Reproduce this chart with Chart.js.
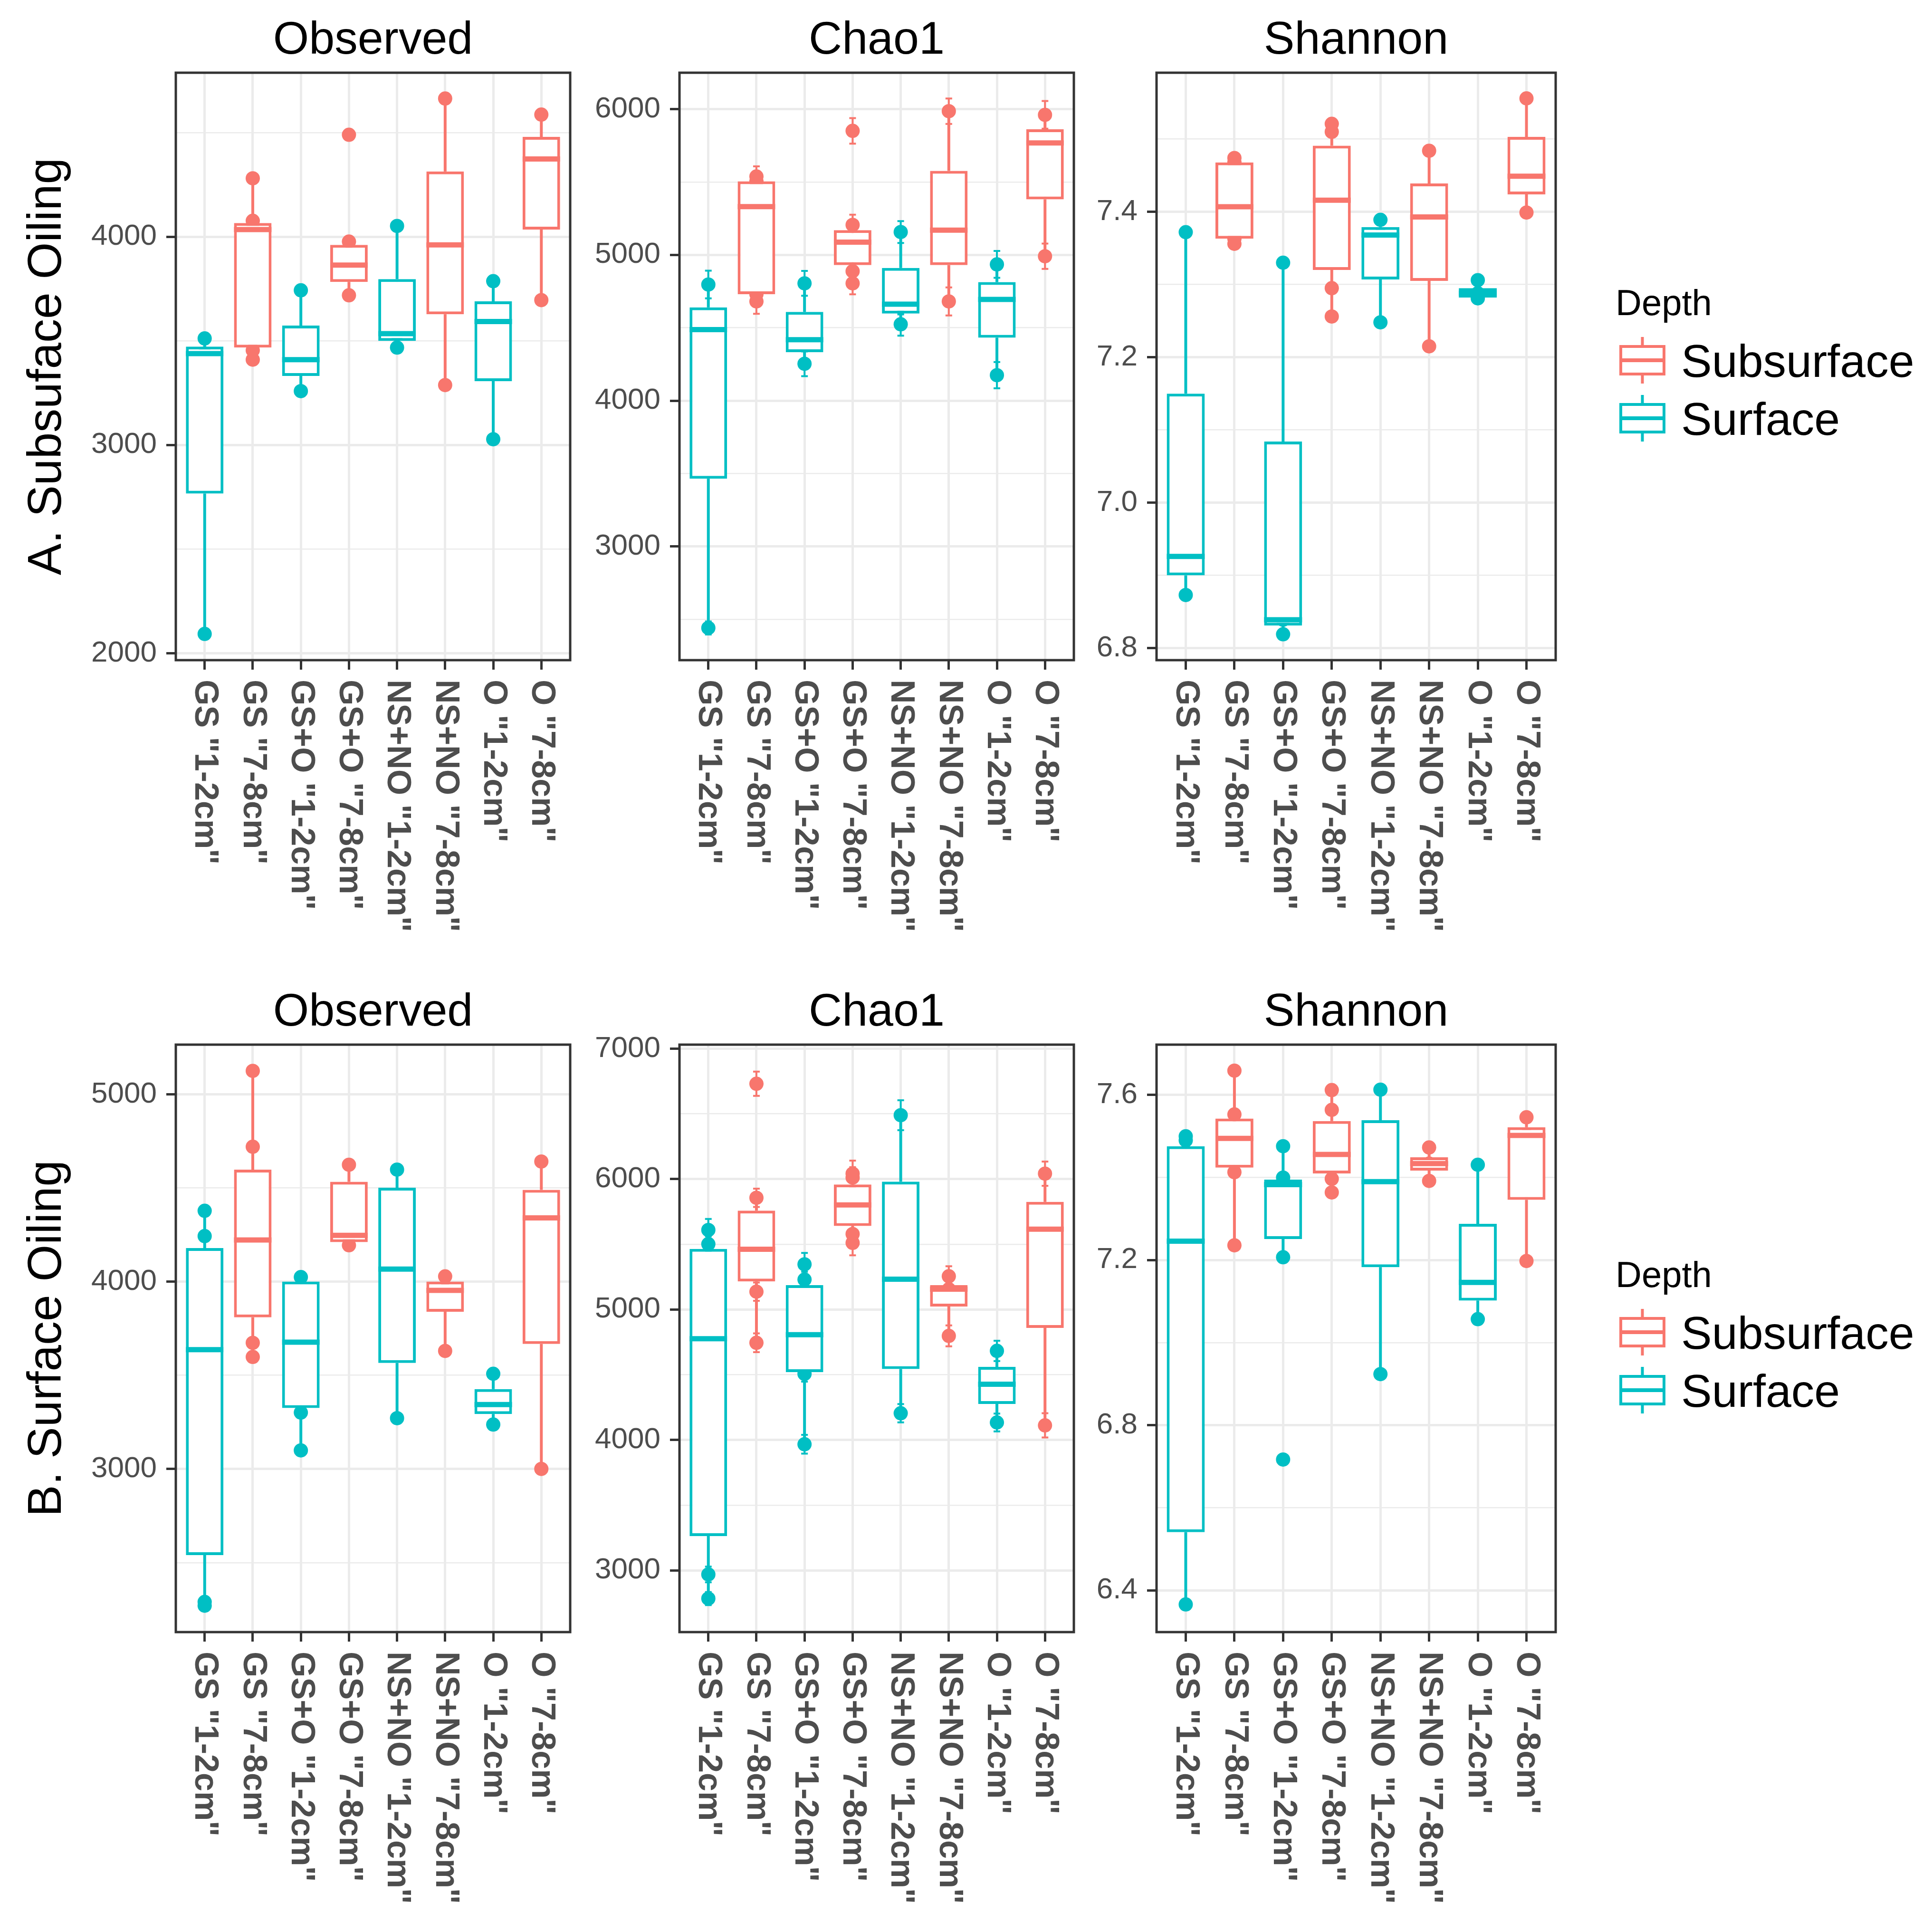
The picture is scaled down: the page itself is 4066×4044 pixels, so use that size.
<!DOCTYPE html>
<html>
<head>
<meta charset="utf-8">
<script src="https://cdn.jsdelivr.net/npm/chart.js@4.4.1/dist/chart.umd.min.js"></script>
<style>
html, body { margin: 0; padding: 0; background: #ffffff; }
body { position: relative; width: 4066px; height: 4044px; overflow: hidden; }
canvas { position: absolute; }
</style>
</head>
<body>
<script>
// categories and colour per depth
var groups = ['GS "1-2cm"', 'GS "7-8cm"', 'GS+O "1-2cm"', 'GS+O "7-8cm"', 'NS+NO "1-2cm"', 'NS+NO "7-8cm"', 'O "1-2cm"', 'O "7-8cm"']
var depth = ['Surface', 'Subsurface', 'Surface', 'Subsurface', 'Surface', 'Subsurface', 'Surface', 'Subsurface']
var depthNames = ['Subsurface', 'Surface']
var depthColor = { Subsurface: '#F8766D', Surface: '#00BFC4' }

// box stats per group: [whisker low, q1, median, q3, whisker high]
var observedA = [[2093, 2767, 3439, 3473, 3512], [3410, 3468, 4035, 4066, 4281], [3259, 3332, 3410, 3574, 3743], [3719, 3783, 3864, 3961, 3977],
  [3468, 3500, 3535, 3797, 4052], [3288, 3628, 3961, 4314, 4664], [3028, 3307, 3593, 3690, 3787], [3696, 4035, 4374, 4480, 4587]]
var observedA_pts = [[2093, 3439, 3512], [3410, 3455, 4035, 4077, 4281], [3259, 3410, 3743], [3719, 3864, 3977, 4490],
  [3468, 3535, 4052], [3288, 3961, 4664], [3028, 3593, 3787], [3696, 4374, 4587]]

var chao1A = [[2441, 3465, 4488, 4640, 4797], [4681, 4731, 5331, 5505, 5538], [4253, 4333, 4418, 4609, 4805], [4805, 4930, 5088, 5170, 5206],
  [4524, 4598, 4662, 4911, 5157], [4681, 4930, 5170, 5577, 5986], [4175, 4432, 4695, 4814, 4935], [4991, 5381, 5768, 5862, 5961]]
var chao1A_pts = [[2441, 4488, 4797], [4681, 4731, 5331, 5505, 5538], [4253, 4418, 4805], [4805, 4888, 5088, 5206, 5851],
  [4524, 4662, 5157], [4681, 5170, 5986], [4175, 4695, 4935], [4991, 5768, 5961]]
var chao1A_se = [[45, 60, 95], [85, 60, 70, 60, 70], [85, 70, 85], [75, 70, 70, 70, 88],
  [78, 70, 75], [96, 80, 87], [90, 75, 92], [87, 80, 95]]

var shannonA = [[6.873, 6.900, 6.926, 7.150, 7.372], [7.356, 7.363, 7.407, 7.468, 7.474], [6.819, 6.831, 6.839, 7.084, 7.330], [7.256, 7.320, 7.416, 7.491, 7.521],
  [7.248, 7.307, 7.368, 7.379, 7.389], [7.215, 7.305, 7.393, 7.439, 7.484], [7.281, 7.282, 7.288, 7.295, 7.306], [7.399, 7.424, 7.449, 7.503, 7.556]]
var shannonA_pts = [[6.873, 6.926, 7.372], [7.356, 7.363, 7.407, 7.468, 7.474], [6.819, 6.839, 7.330], [7.256, 7.295, 7.416, 7.510, 7.521],
  [7.248, 7.368, 7.389], [7.215, 7.393, 7.484], [7.281, 7.288, 7.306], [7.399, 7.449, 7.556]]

var observedB = [[2275, 2540, 3637, 4179, 4378], [3598, 3809, 4222, 4598, 5125], [3099, 3325, 3677, 4000, 4024], [4194, 4211, 4247, 4533, 4624],
  [3271, 3566, 4067, 4501, 4598], [3630, 3839, 3953, 4000, 4028], [3237, 3293, 3344, 3426, 3508], [3000, 3667, 4340, 4490, 4641]]
var observedB_pts = [[2270, 2290, 3637, 4243, 4378], [3598, 3673, 4222, 4720, 5125], [3099, 3301, 3677, 4024], [4194, 4247, 4624],
  [3271, 4067, 4598], [3630, 3953, 4028], [3237, 3344, 3508], [3000, 4340, 4641]]

var chao1B = [[2784, 3263, 4776, 5465, 5610], [4745, 5215, 5462, 5758, 5857], [3967, 4520, 4807, 5187, 5347], [5511, 5641, 5802, 5959, 6042],
  [4205, 4544, 5233, 5981, 6490], [4798, 5023, 5156, 5187, 5255], [4134, 4276, 4427, 4560, 4683], [4112, 4859, 5616, 5826, 6042]]
var chao1B_pts = [[2784, 2969, 4776, 5502, 5610], [4745, 5137, 5462, 5857, 6731], [3967, 4507, 4807, 5230, 5347], [5511, 5579, 5802, 6012, 6042],
  [4205, 5233, 6490], [4798, 5156, 5255], [4134, 4427, 4683], [4112, 5616, 6042]]
var chao1B_se = [[50, 60, 70, 60, 85], [72, 70, 70, 70, 93], [72, 60, 70, 60, 87], [95, 70, 70, 80, 100],
  [70, 80, 115], [80, 70, 77], [68, 70, 78], [93, 80, 93]]

var shannonB = [[6.366, 6.541, 7.246, 7.476, 7.500], [7.236, 7.424, 7.495, 7.543, 7.659], [7.207, 7.251, 7.383, 7.395, 7.476], [7.364, 7.410, 7.456, 7.537, 7.612],
  [6.924, 7.183, 7.390, 7.539, 7.613], [7.392, 7.417, 7.434, 7.449, 7.473], [7.057, 7.102, 7.146, 7.288, 7.431], [7.198, 7.346, 7.502, 7.522, 7.546]]
var shannonB_pts = [[6.366, 7.246, 7.490, 7.500], [7.236, 7.413, 7.495, 7.553, 7.659], [6.717, 7.207, 7.383, 7.400, 7.476], [7.364, 7.397, 7.456, 7.564, 7.612],
  [6.924, 7.390, 7.613], [7.392, 7.434, 7.473], [7.057, 7.146, 7.431], [7.198, 7.502, 7.546]]

// y ticks
var observedA_ticks = [2000, 3000, 4000], observedA_labels = ['2000', '3000', '4000'], observedA_minor = [2500, 3500, 4500]
var chao1A_ticks = [3000, 4000, 5000, 6000], chao1A_labels = ['3000', '4000', '5000', '6000'], chao1A_minor = [2500, 3500, 4500, 5500]
var shannonA_ticks = [6.8, 7.0, 7.2, 7.4], shannonA_labels = ['6.8', '7.0', '7.2', '7.4'], shannonA_minor = [6.9, 7.1, 7.3, 7.5]
var observedB_ticks = [3000, 4000, 5000], observedB_labels = ['3000', '4000', '5000'], observedB_minor = [2500, 3500, 4500]
var chao1B_ticks = [3000, 4000, 5000, 6000, 7000], chao1B_labels = ['3000', '4000', '5000', '6000', '7000'], chao1B_minor = [3500, 4500, 5500, 6500]
var shannonB_ticks = [6.4, 6.8, 7.2, 7.6], shannonB_labels = ['6.4', '6.8', '7.2', '7.6'], shannonB_minor = [6.6, 7.0, 7.4]

var FONT = '"Liberation Sans", Arial, sans-serif'

function makePlugin(p) {
  return {
    id: 'boxplot',
    beforeDatasetsDraw: function (chart) {
      var c = chart.ctx, xs = chart.scales.x, ys = chart.scales.y, a = chart.chartArea
      c.save()
      c.beginPath(); c.rect(a.left, a.top, a.right - a.left, a.bottom - a.top); c.clip()
      c.lineCap = 'butt'
      p.box.forEach(function (b, i) {
        var px = xs.getPixelForValue(i + 1)
        c.strokeStyle = depthColor[depth[i]]
        c.lineWidth = 6
        c.beginPath()
        c.moveTo(px, ys.getPixelForValue(b[0])); c.lineTo(px, ys.getPixelForValue(b[1]))
        c.moveTo(px, ys.getPixelForValue(b[3])); c.lineTo(px, ys.getPixelForValue(b[4]))
        c.stroke()
        if (p.se) {
          c.lineWidth = 4
          p.pts[i].forEach(function (v, k) {
            var s = p.se[i][k], y1 = ys.getPixelForValue(v - s), y2 = ys.getPixelForValue(v + s)
            c.beginPath()
            c.moveTo(px, y1); c.lineTo(px, y2)
            c.moveTo(px - 7, y1); c.lineTo(px + 7, y1)
            c.moveTo(px - 7, y2); c.lineTo(px + 7, y2)
            c.stroke()
          })
        }
      })
      c.restore()
    },
    afterDatasetsDraw: function (chart) {
      var c = chart.ctx, ys = chart.scales.y, a = chart.chartArea
      var bars = chart.getDatasetMeta(0).data
      c.save()
      p.box.forEach(function (b, i) {
        var el = bars[i], py = ys.getPixelForValue(b[2])
        c.strokeStyle = depthColor[depth[i]]
        c.lineWidth = 11
        c.beginPath(); c.moveTo(el.x - el.width / 2, py); c.lineTo(el.x + el.width / 2, py); c.stroke()
      })
      // panel border
      c.strokeStyle = '#333333'
      c.lineWidth = 5
      c.strokeRect(a.left, a.top, a.right - a.left, a.bottom - a.top)
      c.restore()
    },
    afterDraw: function (chart) {
      var c = chart.ctx, xs = chart.scales.x, a = chart.chartArea
      c.save()
      c.font = 'bold 70px ' + FONT
      c.fillStyle = '#4D4D4D'
      c.textAlign = 'left'
      c.textBaseline = 'middle'
      groups.forEach(function (g, i) {
        c.save()
        c.translate(xs.getPixelForValue(i + 1), a.bottom + 41)
        c.rotate(Math.PI / 2)
        c.fillText(g, 0, 0)
        c.restore()
      })
      if (p.legend) {
        var ox = p.left, oy = p.top, dy = p.legendTop
        c.fillStyle = '#000000'
        c.textBaseline = 'alphabetic'
        c.font = '76px ' + FONT
        c.fillText('Depth', 3400 - ox, dy + 663 - oy)
        depthNames.forEach(function (d, k) {
          var cy = dy + 758 + k * 122 - oy, kx = 3408 - ox, col = depthColor[d]
          c.strokeStyle = col
          c.lineWidth = 6
          c.beginPath()
          c.moveTo(kx + 48.5, cy - 49); c.lineTo(kx + 48.5, cy - 32)
          c.moveTo(kx + 48.5, cy + 32); c.lineTo(kx + 48.5, cy + 49)
          c.stroke()
          c.fillStyle = '#ffffff'
          c.fillRect(kx, cy - 32, 97, 64)
          c.strokeRect(kx + 3, cy - 29, 91, 58)
          c.lineWidth = 8
          c.beginPath(); c.moveTo(kx + 3, cy); c.lineTo(kx + 94, cy); c.stroke()
          c.fillStyle = '#000000'
          c.font = '97px ' + FONT
          c.fillText(d, 3538 - ox, cy + 35)
        })
      }
      c.restore()
    }
  }
}

function panel(p) {
  var cv = document.createElement('canvas')
  cv.width = p.w
  cv.height = p.h
  cv.style.left = p.left + 'px'
  cv.style.top = p.top + 'px'
  document.body.appendChild(cv)

  var dots = [], dotColors = []
  p.pts.forEach(function (vals, i) {
    vals.forEach(function (v) {
      dots.push({ x: i + 1, y: v })
      dotColors.push(depthColor[depth[i]])
    })
  })

  new Chart(cv, {
    type: 'bar',
    plugins: [makePlugin(p)],
    data: {
      datasets: [
        {
          type: 'bar',
          data: p.box.map(function (b, i) { return { x: i + 1, y: [b[1], b[3]] } }),
          backgroundColor: '#ffffff',
          borderColor: depth.map(function (d) { return depthColor[d] }),
          borderWidth: 6,
          borderSkipped: false,
          categoryPercentage: 1,
          barPercentage: 0.78,
          order: 0,
        },
        {
          type: 'scatter',
          data: dots,
          backgroundColor: dotColors,
          borderWidth: 0,
          pointRadius: 15,
          order: 1,
        },
      ],
    },
    options: {
      responsive: false,
      animation: false,
      devicePixelRatio: 1,
      events: [],
      layout: { padding: { right: p.padRight, left: 0, top: 0, bottom: 0 } },
      plugins: {
        legend: { display: false },
        tooltip: { enabled: false },
        title: {
          display: true,
          text: p.title,
          fullSize: false,
          color: '#000000',
          font: { family: FONT, size: 97, weight: 'normal', lineHeight: 1.2 },
          padding: { top: 18, bottom: 8.6 },
        },
      },
      scales: {
        x: {
          type: 'linear',
          min: 0.4,
          max: 8.6,
          offset: false,
          afterBuildTicks: function (s) { s.ticks = groups.map(function (g, i) { return { value: i + 1 } }) },
          afterFit: function (s) { s.height = p.xH },
          ticks: { display: false },
          border: { display: false },
          grid: { offset: false, color: '#EBEBEB', lineWidth: 5, drawTicks: true, tickLength: 20, tickColor: '#333333', tickWidth: 5 },
        },
        y: {
          type: 'linear',
          min: p.yMin,
          max: p.yMax,
          afterBuildTicks: function (s) {
            s.ticks = p.major.concat(p.minor).sort(function (a, b) { return a - b }).map(function (v) { return { value: v } })
          },
          afterFit: function (s) { s.width = p.yW },
          ticks: {
            padding: 20,
            color: '#4D4D4D',
            font: { family: FONT, size: 62 },
            callback: function (v) { var k = p.major.indexOf(v); return k < 0 ? '' : p.labels[k] },
          },
          border: { display: false },
          grid: {
            color: '#EBEBEB',
            lineWidth: function (c) { return c.tick && p.major.indexOf(c.tick.value) >= 0 ? 5 : 2.5 },
            drawTicks: true,
            tickLength: 20,
            tickWidth: 5,
            tickColor: function (c) { return c.tick && p.major.indexOf(c.tick.value) >= 0 ? '#333333' : 'rgba(0,0,0,0)' },
          },
          title: {
            display: !!p.yTitle,
            text: p.yTitle || '',
            color: '#000000',
            font: { family: FONT, size: 100, lineHeight: 1.2 },
            padding: { top: 40, bottom: 0 },
          },
        },
      },
    },
  })
}

var rowTop = [10, 2055]
var rowDy = [0, 2045]
var H = 1979

// row A
panel({ left: 0, top: rowTop[0], w: 1215, h: H, yW: 370, padRight: 6, xH: 600, title: 'Observed', yTitle: 'A. Subsuface Oiling',
  box: observedA, pts: observedA_pts, yMin: 1967, yMax: 4788, major: observedA_ticks, labels: observedA_labels, minor: observedA_minor })
panel({ left: 1230, top: rowTop[0], w: 1045, h: H, yW: 200, padRight: 6, xH: 600, title: 'Chao1',
  box: chao1A, pts: chao1A_pts, se: chao1A_se, yMin: 2220, yMax: 6250, major: chao1A_ticks, labels: chao1A_labels, minor: chao1A_minor })
panel({ left: 2274, top: rowTop[0], w: 1792, h: H, yW: 160, padRight: 792, xH: 600, title: 'Shannon', legend: true, legendTop: rowDy[0],
  box: shannonA, pts: shannonA_pts, yMin: 6.7834, yMax: 7.5913, major: shannonA_ticks, labels: shannonA_labels, minor: shannonA_minor })

// row B
panel({ left: 0, top: rowTop[1], w: 1215, h: H, yW: 370, padRight: 6, xH: 600, title: 'Observed', yTitle: 'B. Surface Oiling',
  box: observedB, pts: observedB_pts, yMin: 2129, yMax: 5265, major: observedB_ticks, labels: observedB_labels, minor: observedB_minor })
panel({ left: 1230, top: rowTop[1], w: 1045, h: H, yW: 200, padRight: 6, xH: 600, title: 'Chao1',
  box: chao1B, pts: chao1B_pts, se: chao1B_se, yMin: 2527, yMax: 7031, major: chao1B_ticks, labels: chao1B_labels, minor: chao1B_minor })
panel({ left: 2274, top: rowTop[1], w: 1792, h: H, yW: 160, padRight: 792, xH: 600, title: 'Shannon', legend: true, legendTop: rowDy[1],
  box: shannonB, pts: shannonB_pts, yMin: 6.299, yMax: 7.722, major: shannonB_ticks, labels: shannonB_labels, minor: shannonB_minor })
</script>
</body>
</html>
